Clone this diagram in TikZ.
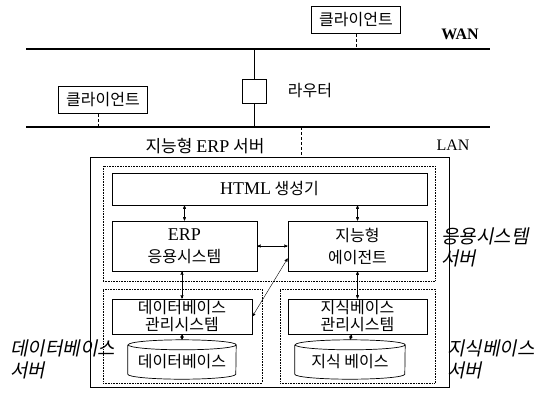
\documentclass[tikz,border=0pt]{standalone}
\usepackage{fontspec}
\setmainfont{Liberation Serif}
\newfontfamily\kr{Noto Sans CJK KR}
\newfontfamily\krsl[FakeSlant=0.2]{Noto Sans CJK KR}
\newcommand\latn[1]{{\rmfamily\fontsize{18}{18}\selectfont #1}}
\usetikzlibrary{arrows}
\usetikzlibrary{calc}
\usetikzlibrary{positioning}

\begin{document}
\begin{tikzpicture}[x=1pt,y=-1pt,>=stealth',
		bus/.style={line width=1.1pt},
		tap/.style={densely dashed,line width=0.5pt},
		cbox/.style={draw,line width=0.7pt,inner sep=0pt,align=center,font=\kr\fontsize{16}{17}\selectfont},
		grp/.style={draw,densely dotted,line width=0.6pt,inner sep=0pt},
		lbl/.style={inner sep=0pt,align=left,font=\krsl\fontsize{19}{22}\selectfont}]
		\useasboundingbox (0,0) rectangle (544,392);
		% WAN / LAN
		\coordinate (wanL) at (26,49);
		\coordinate (wanR) at (490,49);
		\coordinate (lanL) at (26,127);
		\coordinate (lanR) at (490,127);
		\draw[bus] (wanL) -- (wanR);
		\draw[bus] (lanL) -- (lanR);
		\node[font=\bfseries\fontsize{16}{16}\selectfont] (wan) at (460,34) {WAN};
		\node[font=\fontsize{16}{16}\selectfont] (lan) at (453,145) {LAN};
		% clients and router
		\node[cbox,minimum width=89,minimum height=27] (cliT) at (356,20) {클라이언트};
		\node[cbox,minimum width=89,minimum height=27] (cliL) at (103,100) {클라이언트};
		\node[draw,line width=0.7pt,minimum size=24,inner sep=0pt] (rt) at (254,91) {};
		\node[right=18pt of rt,font=\kr\fontsize{16}{16}\selectfont] (rtlbl) {라우터};
		\draw[tap] (cliT.south) -- (cliT.south |- wanL);
		\draw[tap] ([xshift=-5pt]cliL.south) -- ([xshift=-5pt]cliL.south |- lanL);
		\draw[thin] (rt.north) -- (rt.north |- wanL);
		\draw[thin] (rt.south) -- (rt.south |- lanL);
		% server
		\node[draw,line width=0.6pt,minimum width=359,minimum height=230,inner sep=0pt] (srv) at (269.5,272) {};
		\node[font=\kr\fontsize{17}{17}\selectfont] (srvlbl) at (205,146) {지능형 \latn{ERP} 서버};
		\coordinate (lanS) at (301,127);
		\draw[tap] (lanS) -- (lanS |- srv.north);
		\node[grp,minimum width=332,minimum height=115] (app) at (269,223.5) {};
		\node[grp,minimum width=159,minimum height=94] (dbsrv) at (182.5,336) {};
		\node[grp,minimum width=155,minimum height=94] (kbsrv) at (357.5,336) {};
		\node[cbox,minimum width=315,minimum height=32] (html) at (269.5,189) {\latn{HTML} 생성기};
		\node[cbox,minimum width=145,minimum height=50,font=\kr\fontsize{16}{22}\selectfont] (erp) at (184.5,246) {\latn{ERP}\\응용시스템};
		\node[cbox,minimum width=139,minimum height=50,font=\kr\fontsize{16}{22}\selectfont] (agent) at (357.5,246) {지능형\\에이전트};
		\node[cbox,minimum width=140,minimum height=35] (dbms) at (182,316.5) {데이터베이스\\관리시스템};
		\node[cbox,minimum width=139,minimum height=35] (kbms) at (357.5,316.5) {지식베이스\\관리시스템};
		\node[minimum width=108,minimum height=24,inner sep=0pt,font=\kr\fontsize{16}{16}\selectfont] (db) at (182,362) {데이터베이스};
		\node[minimum width=110,minimum height=24,inner sep=0pt,font=\kr\fontsize{16}{16}\selectfont] (kb) at (350,362) {지식 베이스};
		\draw[line width=0.7pt] ([yshift=5pt]db.north west) -- (db.south west) arc[start angle=180,end angle=360,x radius=54pt,y radius=5pt] -- ([yshift=5pt]db.north east) arc[start angle=0,end angle=360,x radius=54pt,y radius=5pt];
		\draw[line width=0.7pt] ([yshift=5pt]kb.north west) -- (kb.south west) arc[start angle=180,end angle=360,x radius=55pt,y radius=5pt] -- ([yshift=5pt]kb.north east) arc[start angle=0,end angle=360,x radius=55pt,y radius=5pt];
		% links
		\draw[<->,thin] (html.south -| erp) -- (erp);
		\draw[<->,thin] (html.south -| agent) -- (agent);
		\draw[<->,thin] (erp) -- (agent);
		\draw[<->,thin] (erp.south -| dbms) -- (dbms);
		\draw[<->,thin] (agent.south -| kbms) -- (kbms);
		\draw[<->,thin] (dbms) -- ([yshift=10pt]db.north);
		\draw[<->,thin] (kbms) -- ([yshift=10pt]kb.north);
		\draw[<->,thin] (dbms.east) -- ([yshift=13pt]agent.south west);
		% group labels
		\node[lbl,anchor=north west] (applbl) at (441,228) {응용시스템\\서버};
		\node[lbl,anchor=north west] (dblbl) at (10,340) {데이터베이스\\서버};
		\node[lbl,anchor=north west] (kblbl) at (447,340) {지식베이스\\서버};
	\end{tikzpicture}
\end{document}
